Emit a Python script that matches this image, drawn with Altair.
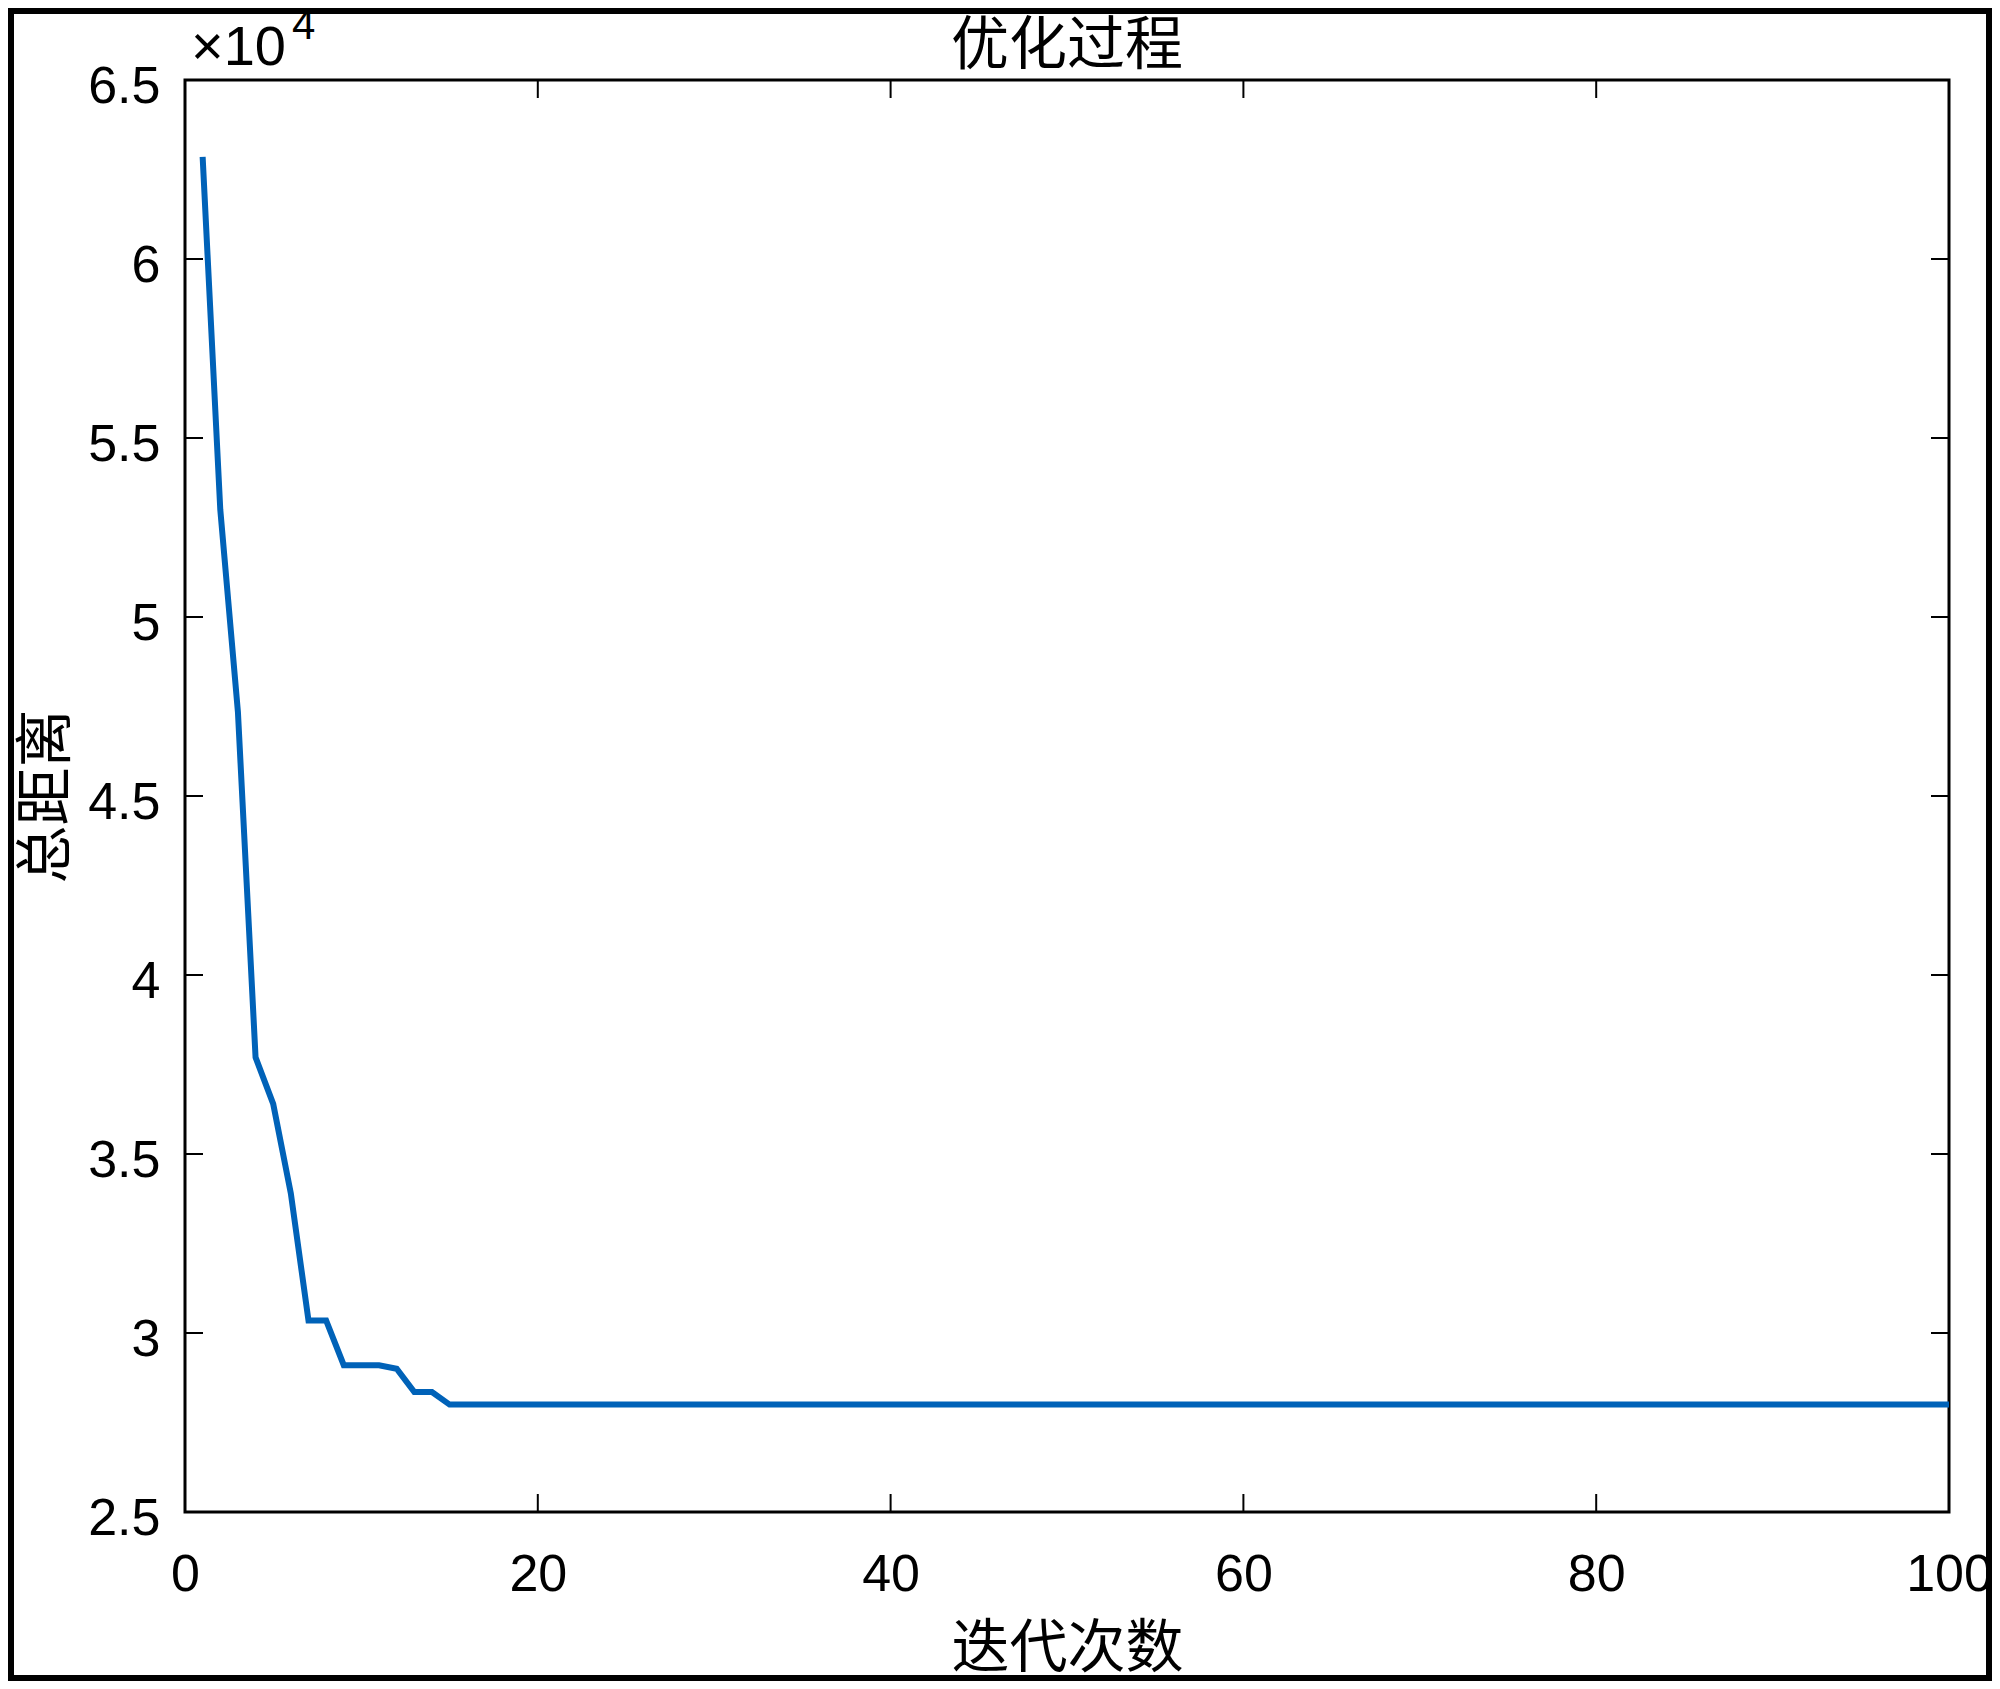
import altair as alt
import pandas as pd

# ---- data ----
iterations = list(range(1, 101))
distance = [
    62850, 53000, 47350, 37700, 36400, 33900, 30350, 30350, 29100, 29100,
    29100, 29000, 28350, 28350, 28000,
    28000, 28000, 28000, 28000, 28000, 28000, 28000, 28000, 28000, 28000,
    28000, 28000, 28000, 28000, 28000, 28000, 28000,
    28000, 28000, 28000, 28000, 28000, 28000, 28000, 28000, 28000, 28000,
    28000, 28000, 28000, 28000, 28000, 28000, 28000,
    28000, 28000, 28000, 28000, 28000, 28000, 28000, 28000, 28000, 28000,
    28000, 28000, 28000, 28000, 28000, 28000, 28000,
    28000, 28000, 28000, 28000, 28000, 28000, 28000, 28000, 28000, 28000,
    28000, 28000, 28000, 28000, 28000, 28000, 28000,
    28000, 28000, 28000, 28000, 28000, 28000, 28000, 28000, 28000, 28000,
    28000, 28000, 28000, 28000, 28000, 28000, 28000,
]
x_ticks = [0, 20, 40, 60, 80, 100]
y_ticks = [25000, 30000, 35000, 40000, 45000, 50000, 55000, 60000, 65000]
title_text = "优化过程"
x_title = "迭代次数"
y_title = "总距离"
exp_base = "×10"
exp_power = "4"

# ---- layout ----
W, H = 1764, 1432
TICK = 18
NUM_FONT = "Liberation Sans"
CJK_FONT = "Noto Sans CJK SC"

df = pd.DataFrame({"iter": iterations, "dist": distance})
xt = pd.DataFrame({"iter": x_ticks})
yt = pd.DataFrame({"dist": y_ticks})
one = pd.DataFrame({"k": [0]})

xscale = alt.Scale(domain=[0, 100], nice=False, zero=False)
yscale = alt.Scale(domain=[25000, 65000], nice=False, zero=False)

x_enc = alt.X("iter:Q", scale=xscale,
              axis=alt.Axis(values=x_ticks, title=x_title, labelPadding=37,
                            labelBaseline="top", titleX=W / 2, titleY=154,
                            titleBaseline="alphabetic", titleAlign="center"))
y_enc = alt.Y("dist:Q", scale=yscale,
              axis=alt.Axis(values=y_ticks, labelExpr="datum.value / 10000 + ''",
                            title=y_title, labelPadding=25, labelOffset=6,
                            titleX=-121, titleY=H / 2, titleAngle=270,
                            titleBaseline="alphabetic", titleAlign="center"))

rule_style = dict(color="black", strokeWidth=2)

left_ticks = alt.Chart(yt).mark_rule(**rule_style).encode(
    y=y_enc, x=alt.value(0), x2=alt.value(TICK))
right_ticks = alt.Chart(yt).mark_rule(**rule_style).encode(
    y=y_enc, x=alt.value(W - TICK), x2=alt.value(W))
bottom_ticks = alt.Chart(xt).mark_rule(**rule_style).encode(
    x=x_enc, y=alt.value(H - TICK), y2=alt.value(H))
top_ticks = alt.Chart(xt).mark_rule(**rule_style).encode(
    x=x_enc, y=alt.value(0), y2=alt.value(TICK))

line = alt.Chart(df).mark_line(color="#0062B8", strokeWidth=6).encode(
    x=x_enc, y=y_enc)

title_txt = alt.Chart(one).mark_text(
    text=title_text, font=CJK_FONT, fontSize=58, align="center",
    baseline="alphabetic", color="black").encode(x=alt.value(W / 2), y=alt.value(-16))
base_txt = alt.Chart(one).mark_text(
    text=exp_base, font=NUM_FONT, fontSize=56, align="left",
    baseline="alphabetic", color="black").encode(x=alt.value(6), y=alt.value(-15))
power_txt = alt.Chart(one).mark_text(
    text=exp_power, font=NUM_FONT, fontSize=42, align="left",
    baseline="alphabetic", color="black").encode(x=alt.value(107), y=alt.value(-41))

frame = alt.Chart(one).mark_rect(fillOpacity=0, stroke="black", strokeWidth=6).encode(
    x=alt.value(-174), x2=alt.value(1804), y=alt.value(-69), y2=alt.value(1598))

chart = alt.layer(
    line, left_ticks, right_ticks, bottom_ticks, top_ticks,
    title_txt, base_txt, power_txt, frame
).properties(
    width=W, height=H,
    padding={"left": 177, "right": 43, "top": 72, "bottom": 169},
    autosize=alt.AutoSizeParams(type="none"),
    background="white",
).configure_view(
    stroke="black", strokeWidth=3
).configure_axis(
    labelFont=NUM_FONT, labelFontSize=52, labelColor="black",
    titleFont=CJK_FONT, titleFontSize=58, titleFontWeight="normal", titleColor="black",
    ticks=False, domain=False, grid=False, labelFlush=False, labelOverlap=False,
)

chart.save("out.html", embed_options={"renderer": "svg", "actions": False})
